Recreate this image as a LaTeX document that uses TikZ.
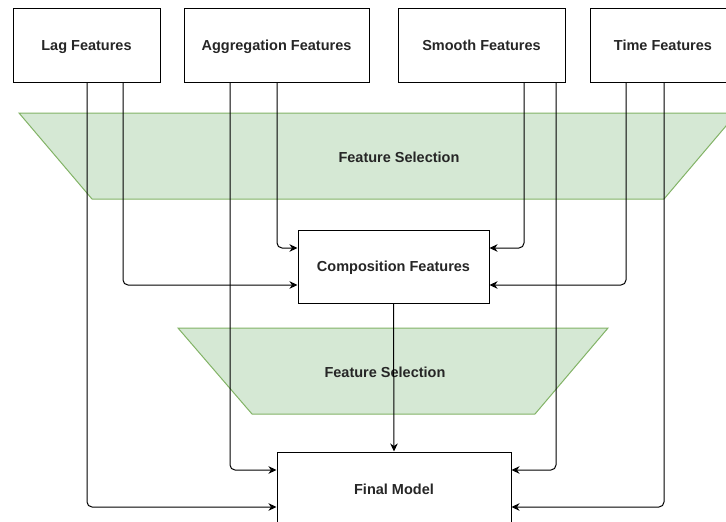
\documentclass[tikz,border=0pt]{standalone}
\usepackage{fontspec}
\setmainfont{Liberation Sans}
\usetikzlibrary{arrows.meta}
\definecolor{fsfill}{HTML}{D5E8D4}
\definecolor{fsline}{HTML}{82B366}
\definecolor{txt}{HTML}{262626}
\begin{document}
\begin{tikzpicture}[x=1pt,y=-1pt,
  box/.style={draw=black,line width=1pt,fill=white,inner sep=0pt,anchor=center,
    font=\bfseries\fontsize{14.5}{16}\selectfont,text=txt,text height=10.4pt,text depth=0pt},
  fsel/.style={draw=fsline,fill=fsfill,line width=1pt,line join=miter},
  lbl/.style={font=\bfseries\fontsize{14.5}{16}\selectfont,text=txt,inner sep=0pt,text height=10.4pt,text depth=0pt},
  arr/.style={draw=black,line width=1pt,rounded corners=5pt,
    -{Stealth[length=8pt,width=7.5pt,inset=2.5pt]}}]
\useasboundingbox (0,0) rectangle (726,522);
% trapezoids
\draw[fsel] (19,113) -- (737,113) -- (664,199) -- (92,199) -- cycle;
\node[lbl] (fs1) at (399,157) {Feature Selection};
\draw[fsel] (178,328) -- (608,328) -- (535,414) -- (252,414) -- cycle;
\node[lbl] (fs2) at (385,372) {Feature Selection};
% boxes
\node[box,minimum width=147pt,minimum height=74pt] (lag) at (86.5,45) {Lag Features};
\node[box,minimum width=185pt,minimum height=74pt] (agg) at (276.5,45) {Aggregation Features};
\node[box,minimum width=167pt,minimum height=74pt] (smo) at (481.5,45) {Smooth Features};
\node[box,minimum width=146pt,minimum height=74pt] (tim) at (663,45) {Time Features};
\node[box,minimum width=191pt,minimum height=73pt] (comp) at (393.5,266.5) {Composition Features};
\node[box,minimum width=234pt,minimum height=74pt] (fin) at (394,489) {Final Model};
% routing coordinates
\coordinate (a1) at (123,285);
\coordinate (a2) at (87,507);
\coordinate (b1) at (230,470);
\coordinate (b2) at (277,248);
\coordinate (c1) at (524,248);
\coordinate (c2) at (556,470);
\coordinate (d1) at (626,285);
\coordinate (d2) at (664,507);
% connectors
\draw[arr] (lag.south -| a1) |- (comp.west |- a1);
\draw[arr] (lag.south -| a2) |- (fin.west |- a2);
\draw[arr] (agg.south -| b1) |- (fin.west |- b1);
\draw[arr] (agg.south -| b2) |- (comp.west |- b2);
\draw[arr] (smo.south -| c1) |- (comp.east |- c1);
\draw[arr] (smo.south -| c2) |- (fin.east |- c2);
\draw[arr] (tim.south -| d1) |- (comp.east |- d1);
\draw[arr] (tim.south -| d2) |- (fin.east |- d2);
\draw[arr] (comp.south) -- (fin.north);
\end{tikzpicture}
\end{document}
